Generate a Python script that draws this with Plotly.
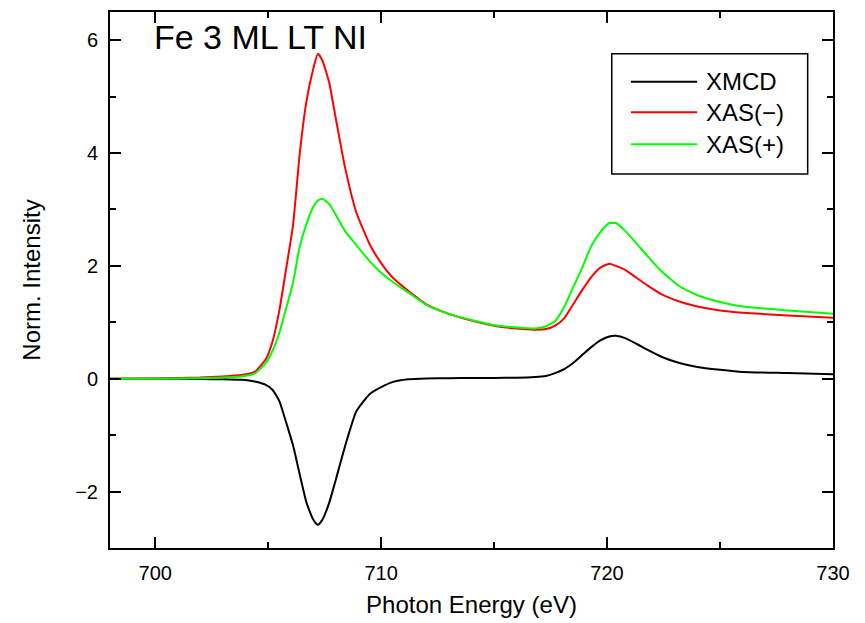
import plotly.graph_objects as go

energy = [698, 700, 702, 703, 703.8, 704.4, 704.9, 705.2, 705.5, 705.8, 706.1, 706.4, 706.7,
          707.0, 707.2, 707.4, 707.7, 708.0, 708.4, 708.9, 709.5, 710.0, 710.5, 711.2, 712.0,
          713.0, 714.0, 715.0, 716.0, 716.8, 717.3, 717.7, 718.1, 718.5, 718.9, 719.3, 719.7,
          720.1, 720.4, 720.8, 721.3, 721.8, 722.4, 723.2, 724.0, 725.0, 726.0, 728.0, 730.0]

xas_minus = [0, 0.005, 0.02, 0.04, 0.065, 0.12, 0.35, 0.67, 1.22, 1.96, 2.72, 4.0, 4.93,
             5.5, 5.76, 5.64, 5.25, 4.6, 3.75, 2.95, 2.38, 2.05, 1.8, 1.56, 1.32,
             1.15, 1.03, 0.94, 0.89, 0.87, 0.88, 0.94, 1.07, 1.32, 1.57, 1.80, 1.97,
             2.04, 2.0, 1.93, 1.79, 1.65, 1.50, 1.37, 1.28, 1.21, 1.17, 1.12, 1.08]

xas_plus = [0, 0.0, 0.01, 0.02, 0.04, 0.09, 0.28, 0.5, 0.82, 1.25, 1.7, 2.35, 2.75,
            3.05, 3.16, 3.19, 3.1, 2.9, 2.62, 2.37, 2.08, 1.88, 1.72, 1.53, 1.31,
            1.15, 1.04, 0.95, 0.91, 0.89, 0.93, 1.02, 1.27, 1.62, 1.97, 2.35, 2.6,
            2.76, 2.76, 2.62, 2.40, 2.17, 1.91, 1.64, 1.48, 1.36, 1.28, 1.21, 1.15]

xmcd = [0, 0, -0.005, -0.01, -0.02, -0.05, -0.11, -0.2, -0.4, -0.78, -1.18, -1.7, -2.2,
        -2.5, -2.59, -2.5, -2.2, -1.78, -1.2, -0.58, -0.27, -0.15, -0.06, -0.01, 0.005,
        0.01, 0.012, 0.015, 0.018, 0.03, 0.05, 0.1, 0.17, 0.28, 0.42, 0.56, 0.68,
        0.75, 0.76, 0.72, 0.62, 0.51, 0.39, 0.28, 0.21, 0.16, 0.12, 0.10, 0.08]

series_names = ["XMCD", "XAS(\u2212)", "XAS(+)"]
series_colors = ["#000000", "#ff0000", "#00ff00"]
series_values = [xmcd, xas_minus, xas_plus]

FONT = "Liberation Sans, Arial, sans-serif"

fig = go.Figure()
for name, color, vals in zip(series_names, series_colors, series_values):
    fig.add_trace(go.Scatter(x=energy, y=vals, mode="lines", name=name,
                             line=dict(color=color, width=2, shape="spline", smoothing=0.5),
                             showlegend=False))

axis_common = dict(showline=True, linecolor="black", linewidth=2, mirror="allticks",
                   ticks="inside", ticklen=11, tickwidth=2, tickcolor="black",
                   showgrid=False, zeroline=False,
                   tickfont=dict(family=FONT, size=20, color="black"))

fig.update_xaxes(range=[698, 730], tickvals=[700, 710, 720, 730],
                 minor=dict(dtick=5, tick0=700, ticks="inside", ticklen=6, tickwidth=2,
                            tickcolor="black", showgrid=False),
                 title=dict(text="Photon Energy (eV)", font=dict(family=FONT, size=24, color="black"),
                            standoff=13),
                 ticklabelstandoff=6,
                 **axis_common)
fig.update_yaxes(range=[-3, 6.5], tickvals=[-2, 0, 2, 4, 6],
                 minor=dict(dtick=1, tick0=0, ticks="inside", ticklen=6, tickwidth=2,
                            tickcolor="black", showgrid=False),
                 title=dict(text="Norm. Intensity", font=dict(family=FONT, size=24, color="black"),
                            standoff=28),
                 ticklabelstandoff=6,
                 **axis_common)

# legend box drawn manually
leg_rows = [0.870, 0.8128, 0.7534]
shapes = [dict(type="rect", xref="paper", yref="paper", x0=0.694, x1=0.965, y0=0.6976, y1=0.922,
               line=dict(color="black", width=1.5), fillcolor="white", layer="above")]
annotations = []
for name, color, yy in zip(series_names, series_colors, leg_rows):
    shapes.append(dict(type="line", xref="paper", yref="paper", x0=0.7206, x1=0.812, y0=yy, y1=yy,
                       line=dict(color=color, width=2)))
    annotations.append(dict(text=name, xref="paper", yref="paper", x=0.822, y=yy,
                            xanchor="left", yanchor="middle", showarrow=False,
                            font=dict(family=FONT, size=24, color="black")))

annotations.append(dict(text="Fe 3 ML LT NI", xref="paper", yref="paper", x=0.058, y=0.953,
                        xanchor="left", yanchor="middle", showarrow=False,
                        font=dict(family=FONT, size=34, color="black")))

# page body adds an 8px offset, so the figure is sized to fit the window
fig.update_layout(width=857, height=615, margin=dict(l=102, r=32, t=2, b=75),
                  plot_bgcolor="white", paper_bgcolor="white",
                  shapes=shapes, annotations=annotations, showlegend=False)

fig.write_html("out.html")
